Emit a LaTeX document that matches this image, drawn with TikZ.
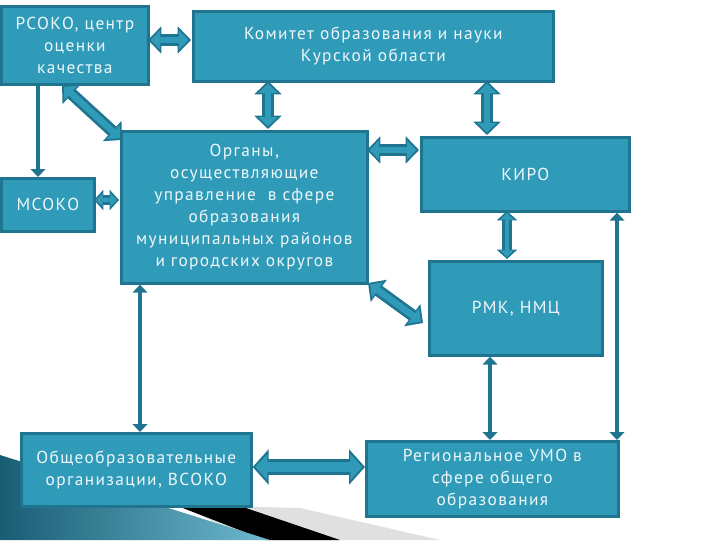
\documentclass[tikz,border=0pt]{standalone}
\usepackage{fontspec}
\setmainfont[LetterSpace=8]{PT Sans}
\usetikzlibrary{arrows.meta}
\definecolor{boxfill}{HTML}{2F9BB9}
\definecolor{boxline}{HTML}{1F7490}
\begin{document}
\begin{tikzpicture}[x=0.75pt,y=-0.75pt,
  box/.style={draw=boxline,line width=2pt,fill=boxfill,text=white!92!boxfill,align=center,inner sep=0pt,font=\fontsize{13}{16.5}\selectfont},
  thin/.style={draw=boxline,line width=3.2pt,{Triangle[width=11pt,length=6pt]}-{Triangle[width=11pt,length=6pt]}},
  thinone/.style={draw=boxline,line width=3.2pt,-{Triangle[width=11pt,length=6pt]}},
  fatout/.style={draw=boxline,line width=9pt,{Triangle[width=20pt,length=10pt]}-{Triangle[width=20pt,length=10pt]}},
  fatin/.style={draw=boxfill,line width=5pt,shorten <=2pt,shorten >=2pt,{Triangle[width=14pt,length=7pt]}-{Triangle[width=14pt,length=7pt]}},
  smout/.style={draw=boxline,line width=7pt,{Triangle[width=15pt,length=7pt]}-{Triangle[width=15pt,length=7pt]}},
  smin/.style={draw=boxfill,line width=3.5pt,shorten <=1.5pt,shorten >=1.5pt,{Triangle[width=10pt,length=5pt]}-{Triangle[width=10pt,length=5pt]}}]
\useasboundingbox (0,0) rectangle (720,540);
% decoration
\fill[black!12] (180,505) -- (300,508) -- (440,540) -- (250,540) -- cycle;
\fill[black] (170,503) -- (240,506) -- (340,540) -- (265,540) -- cycle;
\shade[left color=boxline!80!black,right color=boxfill!70!white] (0,455) -- (270,540) -- (0,540) -- cycle;
% boxes
\node[box,minimum width=147*0.75pt,minimum height=78*0.75pt,anchor=north west] (rsoko) at (0,5) {РСОКО, центр\\оценки\\качества};
\node[box,minimum width=360*0.75pt,minimum height=70*0.75pt,anchor=north west] (kom) at (192,10) {Комитет образования и науки\\Курской области};
\node[box,minimum width=93*0.75pt,minimum height=53*0.75pt,anchor=north west] (msoko) at (0,177) {МСОКО};
\node[box,minimum width=246*0.75pt,minimum height=152*0.75pt,anchor=north west] (org) at (120,130) {Органы,\\осуществляющие\\управление \ в сфере\\образования\\муниципальных районов\\и городских округов};
\node[box,minimum width=208*0.75pt,minimum height=74*0.75pt,anchor=north west] (kiro) at (420,136) {КИРО};
\node[box,minimum width=173*0.75pt,minimum height=94*0.75pt,anchor=north west] (rmk) at (428,260) {РМК, НМЦ};
\node[box,minimum width=230*0.75pt,minimum height=73*0.75pt,anchor=north west] (obsh) at (20,432) {Общеобразовательные\\организации, ВСОКО};
\node[box,minimum width=252*0.75pt,minimum height=75*0.75pt,anchor=north west] (umo) at (365,440) {Региональное УМО в\\сфере общего\\образования};
% fat arrows
\foreach \a/\b in {{148,40}/{191,40},{62,85}/{122,140},{268,81}/{268,129},{487,81}/{487,135},{367,150}/{419,150},{368,283}/{423,323}}{
  \draw[fatout] (\a) -- (\b);
  \draw[fatin] (\a) -- (\b);}
\foreach \a/\b in {{94,200}/{119,200},{507,211}/{507,259}}{
  \draw[smout] (\a) -- (\b);
  \draw[smin] (\a) -- (\b);}
\draw[fatout,line width=12pt,{Triangle[width=26pt,length=12pt]}-{Triangle[width=26pt,length=12pt]}] (obsh.east|-0,467) -- (umo.west|-0,467);
\draw[fatin,line width=8pt,{Triangle[width=19pt,length=9pt]}-{Triangle[width=19pt,length=9pt]}] (obsh.east|-0,467) -- (umo.west|-0,467);
% thin arrows
\draw[thinone] (38,84) -- (msoko.north-|38,0);
\draw[thin] (org.south-|140,0) -- (obsh.north-|140,0);
\draw[thin] (rmk.south-|490,0) -- (umo.north-|490,0);
\draw[thin] (kiro.south-|617,0) -- (umo.north-|617,0);
\end{tikzpicture}
\end{document}
